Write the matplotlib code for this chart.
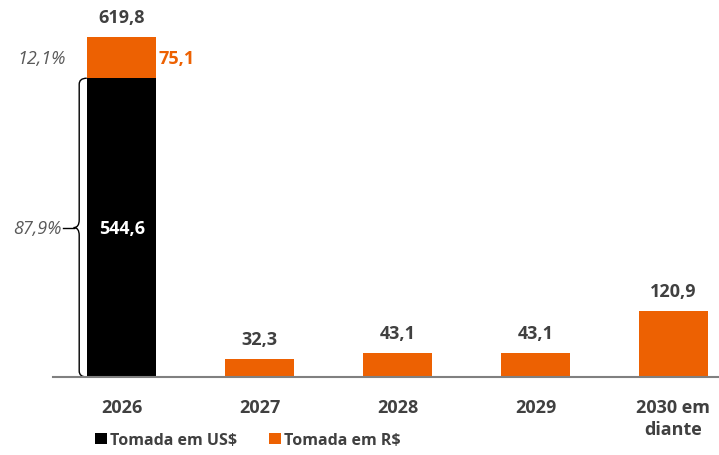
import matplotlib
matplotlib.use('Agg')
import matplotlib.pyplot as plt
from matplotlib.path import Path
from matplotlib.patches import PathPatch

# Datos
categorias = ['2026', '2027', '2028', '2029', '2030 em\ndiante']
tomada_usd = [544.6, 0, 0, 0, 0]
tomada_brl = [75.1, 32.3, 43.1, 43.1, 120.9]
totales = [619.8, 32.3, 43.1, 43.1, 120.9]
pct_usd = '87,9%'
pct_brl = '12,1%'

NEGRO = '#000000'
NARANJA = '#ED6102'
GRIS = '#404040'
GRIS_PCT = '#595959'

plt.rcParams['font.family'] = ['Open Sans', 'DejaVu Sans']

def fmt(v):
  return f'{v:.1f}'.replace('.', ',')

fig = plt.figure(figsize=(7.19, 4.56), dpi=100)
ax = fig.add_axes([53 / 719, 78 / 456, 1 - 53 / 719, 1 - 78 / 456])

x = list(range(len(categorias)))
ancho = 0.5
ax.bar(x, tomada_usd, width=ancho, color=NEGRO, label='Tomada em US$')
ax.bar(x, tomada_brl, width=ancho, bottom=tomada_usd, color=NARANJA, label='Tomada em R$')

ax.set_xlim(-0.5, 4.33)
ax.set_ylim(0, 689)

# Totales arriba de cada barra
for i in x:
  ax.annotate(fmt(totales[i]), (i, totales[i]), xytext=(0, 8),
              textcoords='offset points', ha='center', va='bottom',
              fontsize=13, fontweight='bold', color=GRIS)

# Etiquetas del 2026
ax.text(0, tomada_usd[0] / 2, fmt(tomada_usd[0]), ha='center', va='center',
        fontsize=13, fontweight='bold', color='white')
ax.text(0.265, tomada_usd[0] + tomada_brl[0] / 2, fmt(tomada_brl[0]),
        ha='left', va='center', fontsize=13, fontweight='bold', color=NARANJA)
ax.text(-0.41, tomada_usd[0] + tomada_brl[0] / 2, pct_brl, ha='right', va='center',
        fontsize=13, fontstyle='italic', color=GRIS_PCT, clip_on=False)
ax.text(-0.435, tomada_usd[0] / 2, pct_usd, ha='right', va='center',
        fontsize=13, fontstyle='italic', color=GRIS_PCT, clip_on=False)

# Llave del 87,9%
top = tomada_usd[0]
mid = top / 2
xe, xl, xt = -0.255, -0.31, -0.35
verts = [(xe, top), (xl, top), (xl, top - 11),
         (xl, mid + 14), (xl, mid), (xt, mid),
         (xl, mid), (xl, mid - 14),
         (xl, 11), (xl, 0), (xe, 0)]
codes = [Path.MOVETO, Path.CURVE3, Path.CURVE3,
         Path.LINETO, Path.CURVE3, Path.CURVE3,
         Path.CURVE3, Path.CURVE3,
         Path.LINETO, Path.CURVE3, Path.CURVE3]
ax.add_patch(PathPatch(Path(verts, codes), fill=False, lw=1.0, color='black', clip_on=False))
ax.plot([-0.43, xt], [mid, mid], color='black', lw=1.0, clip_on=False)

# Ejes
for s in ['top', 'right', 'left']:
  ax.spines[s].set_visible(False)
ax.spines['bottom'].set_color('#808080')
ax.spines['bottom'].set_linewidth(1.5)
ax.set_yticks([])
ax.set_xticks(x)
ax.set_xticklabels(categorias, fontsize=13, fontweight='bold', color=GRIS, linespacing=1.3)
ax.tick_params(axis='x', length=0, pad=15)

fig.legend(loc='center', bbox_to_anchor=(248 / 719, 1 - 441 / 456), ncol=2, frameon=False,
           handlelength=0.75, handleheight=0.75, handletextpad=0.2, columnspacing=2.0,
           prop={'size': 11.5, 'weight': 'bold'}, labelcolor=GRIS)

plt.savefig('out.png', dpi=100)
